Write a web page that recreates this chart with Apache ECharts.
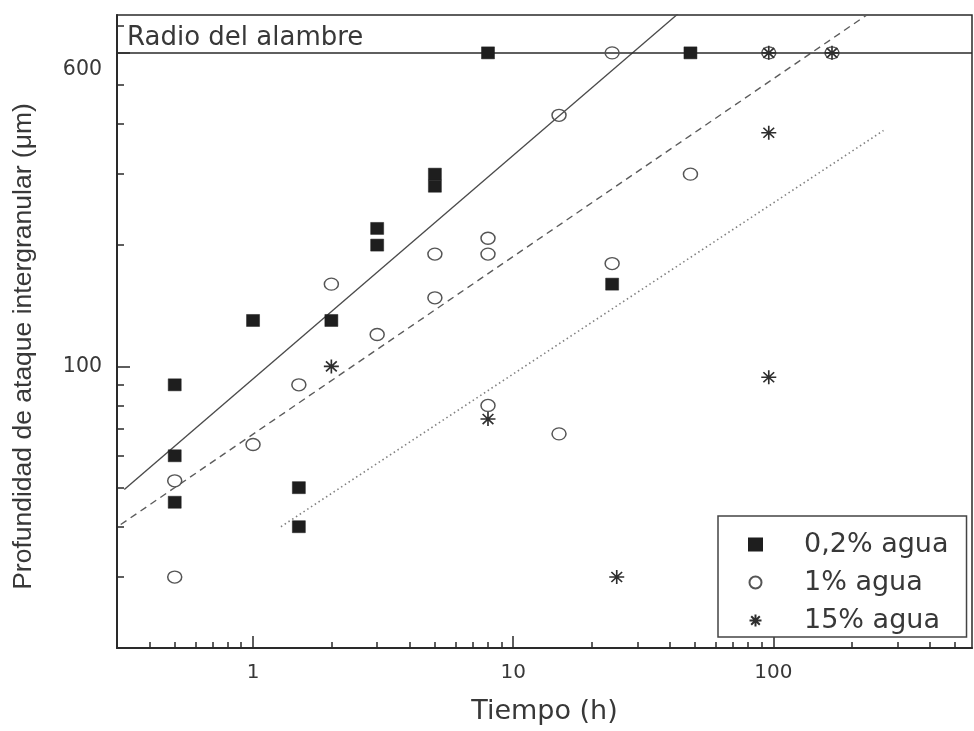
<!DOCTYPE html>
<html>
<head>
<meta charset="utf-8">
<script src="https://cdn.jsdelivr.net/npm/echarts@6/dist/echarts.min.js"></script>
<style>
  html, body { margin: 0; padding: 0; background: #fff; }
  #chart { width: 974px; height: 731px; }
</style>
</head>
<body>
<div id="chart"></div>
<script>
// Intergranular attack depth vs. exposure time, for three water contents (log-log)

// 0,2 % water: time (h) and depth (µm)
const agua02Tiempo = [0.5, 0.5, 0.5, 1, 1.5, 1.5, 2, 3, 3, 5, 5, 8, 24, 48];
const agua02Prof   = [90, 60, 46, 130, 50, 40, 130, 220, 200, 300, 280, 600, 160, 600];

// 1 % water
const agua1Tiempo = [0.5, 0.5, 1, 1.5, 2, 3, 5, 5, 8, 8, 8, 15, 15, 24, 24, 48, 96, 168];
const agua1Prof   = [52, 30, 64, 90, 160, 120, 190, 148, 208, 190, 80, 68, 420, 600, 180, 300, 600, 600];

// 15 % water
const agua15Tiempo = [2, 8, 25, 96, 96, 96, 168];
const agua15Prof   = [100, 74, 30, 380, 94, 600, 600];

// Power-law fit lines (end points, time h / depth µm)
const ajuste02 = [[0.32, 49.5], [43, 750]];
const ajuste1  = [[0.31, 40.5], [232, 750]];
const ajuste15 = [[1.28, 40], [265, 385]];

// Wire radius
const radioAlambre = 600;

// Axis ticks
const xMajor = [1, 10, 100];
const xMinor = [0.4, 0.5, 0.6, 0.7, 0.8, 0.9, 2, 3, 4, 5, 6, 7, 8, 9,
                20, 30, 40, 50, 60, 70, 80, 90, 200, 300, 400, 500];
const yMajor = [100, 600];
const yMinor = [30, 40, 50, 60, 70, 80, 90, 200, 300, 400, 500, 700];

const seriesNames = ['0,2% agua', '1% agua', '15% agua'];

const X_MIN = 0.3, X_MAX = 580, Y_MIN = 20, Y_MAX = 745;

const pairs = (t, v) => t.map((x, i) => [x, v[i]]);

const FONT = 'DejaVu Sans';
const TXT = '#383838';
const AX = '#2a2a2a';

const starPath = 'path://M0,-6L0,6M-6,0L6,0M-4.3,-4.3L4.3,4.3M-4.3,4.3L4.3,-4.3';

const chart = echarts.init(document.getElementById('chart'), null, { renderer: 'canvas' });

const baseX = {
  type: 'log', logBase: 10, min: X_MIN, max: X_MAX, position: 'bottom',
  splitLine: { show: false }, minorTick: { show: false }, minorSplitLine: { show: false }
};
const baseY = {
  type: 'log', logBase: 10, min: Y_MIN, max: Y_MAX, position: 'left',
  splitLine: { show: false }, minorTick: { show: false }, minorSplitLine: { show: false }
};

chart.setOption({
  animation: false,
  backgroundColor: '#fff',
  grid: {
    left: 117, right: 2, top: 15, bottom: 83,
    show: true, borderColor: AX, borderWidth: 1.5, backgroundColor: 'transparent'
  },
  xAxis: [
    Object.assign({}, baseX, {
      name: 'Tiempo (h)', nameLocation: 'middle', nameGap: 50,
      nameTextStyle: { fontFamily: FONT, fontSize: 27, color: TXT },
      axisLine: { show: true, onZero: false, lineStyle: { color: AX, width: 2 } },
      axisTick: { show: true, inside: true, length: 6, customValues: xMinor,
                  lineStyle: { color: AX, width: 1.5 } },
      axisLabel: { show: true, customValues: xMajor, margin: 15,
                   fontFamily: FONT, fontSize: 20, color: TXT }
    }),
    Object.assign({}, baseX, {
      axisLine: { show: false },
      axisTick: { show: true, inside: true, length: 12, customValues: xMajor,
                  lineStyle: { color: AX, width: 1.5 } },
      axisLabel: { show: false }
    })
  ],
  yAxis: [
    Object.assign({}, baseY, {
      name: 'Profundidad de ataque intergranular (μm)', nameLocation: 'middle', nameGap: 80,
      nameTextStyle: { fontFamily: 'Liberation Sans', fontSize: 26.5, color: TXT, padding: [0, 30, 0, 0] },
      axisLine: { show: true, onZero: false, lineStyle: { color: AX, width: 2 } },
      axisTick: { show: true, inside: true, length: 7, customValues: yMinor,
                  lineStyle: { color: AX, width: 1.5 } },
      axisLabel: {
        show: true, customValues: yMajor, margin: 15,
        fontFamily: FONT, fontSize: 20.5, color: TXT,
        formatter: v => (v === 600 ? '{low|600}' : String(v)),
        rich: { low: { fontFamily: FONT, fontSize: 20.5, color: TXT, padding: [34, 0, 0, 0] } }
      }
    }),
    Object.assign({}, baseY, {
      axisLine: { show: false },
      axisTick: { show: true, inside: true, length: 13, customValues: yMajor,
                  lineStyle: { color: AX, width: 1.5 } },
      axisLabel: { show: false }
    })
  ],
  legend: {
    orient: 'vertical', left: 718, top: 516,
    data: seriesNames,
    itemWidth: 13, itemHeight: 12, itemGap: 11,
    padding: [15, 18, 3, 30],
    borderColor: '#444', borderWidth: 1.5, backgroundColor: '#fff',
    textStyle: { fontFamily: FONT, fontSize: 27, color: TXT, padding: [0, 0, 0, 37] }
  },
  series: [
    {
      name: 'ajuste 0,2%', type: 'line', data: ajuste02, symbol: 'none', silent: true, z: 1,
      lineStyle: { color: '#4a4a4a', width: 1.4, type: 'solid' }
    },
    {
      name: 'ajuste 1%', type: 'line', data: ajuste1, symbol: 'none', silent: true, z: 1,
      lineStyle: { color: '#5c5c5c', width: 1.4, type: [7, 5] }
    },
    {
      name: 'ajuste 15%', type: 'line', data: ajuste15, symbol: 'none', silent: true, z: 1,
      lineStyle: { color: '#808080', width: 1.6, type: [1.5, 3] }
    },
    {
      name: seriesNames[0], type: 'scatter', data: pairs(agua02Tiempo, agua02Prof), z: 3,
      symbol: 'rect', symbolSize: [13, 12],
      itemStyle: { color: '#1e1e1e', borderColor: '#1e1e1e', borderWidth: 0.5, opacity: 1 },
      markLine: {
        silent: true, symbol: 'none', z: 2,
        lineStyle: { color: AX, width: 1.5, type: 'solid' },
        label: {
          show: true, position: 'insideStartTop', distance: [10, 2],
          formatter: 'Radio del alambre',
          fontFamily: FONT, fontSize: 26, color: TXT
        },
        data: [{ yAxis: radioAlambre }]
      }
    },
    {
      name: seriesNames[1], type: 'scatter', data: pairs(agua1Tiempo, agua1Prof), z: 3,
      symbol: 'circle', symbolSize: [14, 12],
      itemStyle: { color: 'rgba(255,255,255,0)', borderColor: '#555', borderWidth: 1.4, opacity: 1 }
    },
    {
      name: seriesNames[2], type: 'scatter', data: pairs(agua15Tiempo, agua15Prof), z: 3,
      symbol: starPath, symbolSize: [15, 14],
      itemStyle: { color: 'rgba(0,0,0,0)', borderColor: '#2e2e2e', borderWidth: 1.6, opacity: 1 }
    }
  ]
});
</script>
</body>
</html>
